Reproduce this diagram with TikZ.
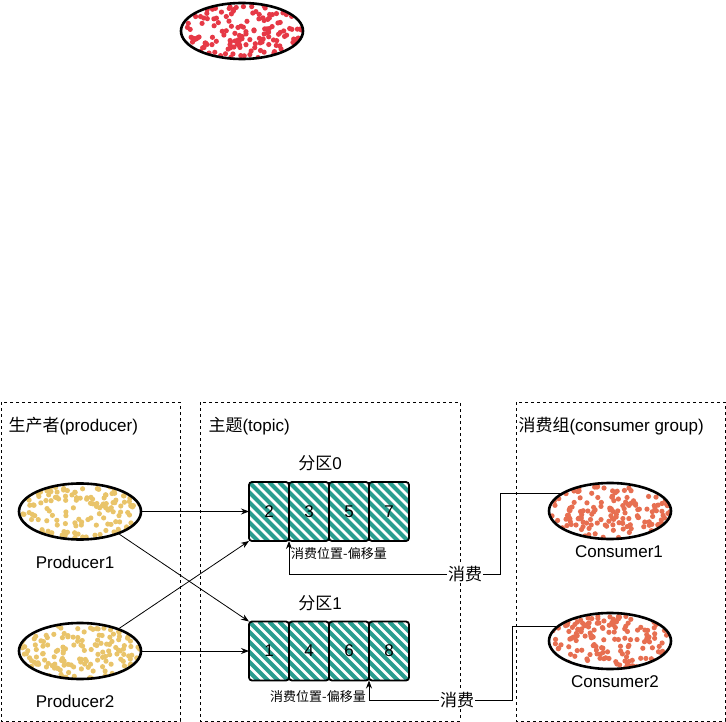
\documentclass[tikz,border=0pt]{standalone}
\usepackage{fontspec}
\setmainfont{Liberation Sans}
\newfontfamily\cjk{Noto Sans CJK SC}
\usetikzlibrary{shapes.geometric,calc,arrows.meta}

\definecolor{dotyellow}{HTML}{E9C46A}
\definecolor{dotorange}{HTML}{E76F51}
\definecolor{dotred}{HTML}{E63946}
\definecolor{stripeteal}{HTML}{2A9D8F}

% random speckles inside an ellipse
\newcommand\speckle[1]{%
  \foreach \i in {1,...,170}{%
    \fill[#1] ($(path picture bounding box.north west)+(3+rnd*118,3+rnd*52)$) circle (2.6pt);}}
% diagonal stripes inside a cell
\newcommand\hatch{%
  \foreach \k in {-70,-60,...,45}{%
    \draw[stripeteal, line width=4pt] ($(path picture bounding box.north west)+(\k,0)$) -- ++(72,72);}}

\begin{document}
\begin{tikzpicture}[x=1pt, y=-1pt,
  every node/.style={font=\fontsize{17}{20}\selectfont},
  frame/.style={draw, line width=0.7pt, dash pattern=on 3pt off 3pt},
  blob/.style={draw, ellipse, line width=2.6pt, minimum width=122pt, minimum height=56pt, inner sep=0pt, path picture={\speckle{#1}}},
  cell/.style={draw, line width=1.8pt, rounded corners=3pt, minimum width=40pt, minimum height=59pt, inner sep=0pt, outer sep=0pt, path picture={\hatch}},
  link/.style={-{Stealth[length=8pt,width=6pt]}, line width=0.8pt},
  small/.style={font=\fontsize{13}{15}\selectfont}]
  \pgfmathsetseed{5}
  \useasboundingbox (0,0) rectangle (726,722);
  % spare ellipse at the top
  \node[blob=dotred] (spare) at (242,31) {};
  % containers
  \draw[frame] (1,402) rectangle (180,721);
  \draw[frame] (200,402) rectangle (460,721);
  \draw[frame] (516,402) rectangle (725,721);
  \node[anchor=west] (prodtitle) at (5,426) {{\cjk 生产者}(producer)};
  \node[anchor=west] (topictitle) at (205,426) {{\cjk 主题}(topic)};
  \node[anchor=west] (constitle) at (515,426) {{\cjk 消费组}(consumer group)};
  % producers
  \node[blob=dotyellow] (prod1) at (80,511.5) {};
  \node (prod1label) at (75,562) {Producer1};
  \node[blob=dotyellow] (prod2) at (80,651) {};
  \node (prod2label) at (75,701) {Producer2};
  % partitions
  \node (part0) at (320,463) {{\cjk 分区}0};
  \foreach \n [count=\i] in {2,3,5,7}
    \node[cell] (pa\i) at ({229+40*\i},511.5) {\n};
  \node (part1) at (320,603) {{\cjk 分区}1};
  \foreach \n [count=\i] in {1,4,6,8}
    \node[cell] (pb\i) at ({229+40*\i},651) {\n};
  \node[small] (offset0) at (339,554) {\cjk 消费位置-偏移量};
  \node[small] (offset1) at (318,697) {\cjk 消费位置-偏移量};
  % consumers
  \node[blob=dotorange] (cons1) at (610,511) {};
  \node (cons1label) at (619,552) {Consumer1};
  \node[blob=dotorange] (cons2) at (610,641) {};
  \node (cons2label) at (615,682) {Consumer2};
  % producer arrows
  \draw[link] (prod1.east) -- (pa1.west);
  \draw[link] (prod1.330) -- (pb1.north west);
  \draw[link] (prod2.30) -- (pa1.south west);
  \draw[link] (prod2.east) -- (pb1.west);
  % consuming
  \node[fill=white, inner sep=1pt] (use1) at (465,574) {\cjk 消费};
  \node[fill=white, inner sep=1pt] (use2) at (457,700) {\cjk 消费};
  \coordinate (turn1) at (500,574);
  \coordinate (turn2) at (512,700);
  \draw[line width=0.8pt] (cons1.160) -| (turn1) -- (use1.east);
  \draw[link] (use1.west) -| (pa1.south east);
  \draw[line width=0.8pt] (cons2.165) -| (turn2) -- (use2.east);
  \draw[link] (use2.west) -| (pb3.south east);
\end{tikzpicture}
\end{document}
